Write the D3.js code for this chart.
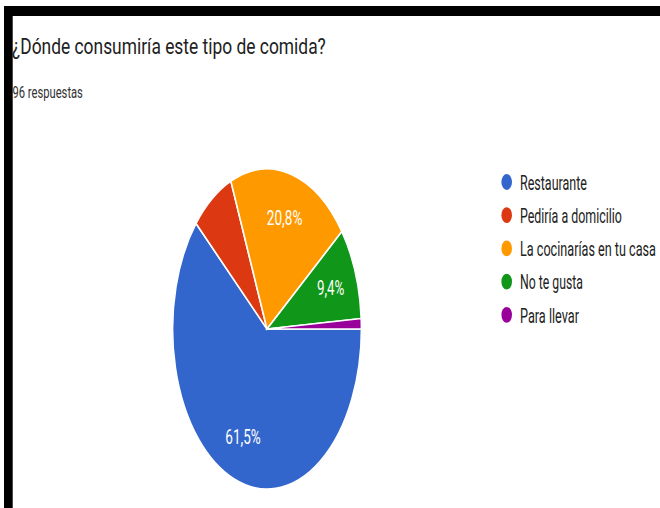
<!DOCTYPE html>
<html>
<head>
<meta charset="utf-8">
<script src="https://cdn.jsdelivr.net/npm/d3@7"></script>
<style>
  html, body { margin: 0; padding: 0; background: #fff; }
  svg { display: block; font-family: Roboto, "Noto Sans", Arial, sans-serif; }
</style>
</head>
<body>
<svg id="chart" width="660" height="508"></svg>
<script>
// Survey answers (96 responses)
const categories = ["Restaurante", "Pediría a domicilio", "La cocinarías en tu casa", "No te gusta", "Para llevar"];
const counts = [59, 7, 20, 9, 1];
const colors = ["#3366cc", "#dc3912", "#ff9900", "#109618", "#990099"];
const titleText = "¿Dónde consumiría este tipo de comida?";
const subtitleText = "96 respuestas";

// Widths the condensed text is fitted to
const legendWidths = [67, 102, 136, 63, 59];

const svg = d3.select("#chart");
const W = 660, H = 508;

svg.append("rect").attr("width", W).attr("height", H).attr("fill", "#fff");

// Draws a text condensed horizontally to the given width (left or middle anchored)
function condensed(parent, str, x, y, size, width, fill, anchor) {
  const g = parent.append("g");
  const t = g.append("text")
    .attr("font-size", size)
    .attr("fill", fill)
    .attr("text-anchor", anchor || "start")
    .text(str);
  const natural = t.node().getComputedTextLength();
  g.attr("transform", `translate(${x},${y}) scale(${width / natural},1)`);
  return g;
}

// Header
condensed(svg, titleText, 12, 54, 21.5, 314, "#212121");
condensed(svg, subtitleText, 12.5, 98, 17, 70.5, "#333");

// Pie (drawn as a circle, squeezed horizontally)
const cx = 267, cy = 329, R = 160, sx = 0.59;
const total = d3.sum(counts);
const data = categories.map((c, i) => ({ name: c, value: counts[i], color: colors[i] }));

const pie = d3.pie().value(d => d.value).sort(null)
  .startAngle(Math.PI / 2).endAngle(Math.PI / 2 + 2 * Math.PI);
const arcs = pie(data);
const arc = d3.arc().innerRadius(0).outerRadius(R);
const labelArc = d3.arc().innerRadius(R * 0.72).outerRadius(R * 0.72);

const pieG = svg.append("g").attr("transform", `translate(${cx},${cy}) scale(${sx},1)`);
pieG.selectAll("path").data(arcs).join("path")
  .attr("d", arc)
  .attr("fill", d => d.data.color)
  .attr("stroke", "#fff")
  .attr("stroke-width", 1.6)
  .attr("vector-effect", "non-scaling-stroke");

// Percentage labels only on the larger slices
const fmt = v => (Math.round(v * 1000) / 10).toFixed(1).replace(".", ",") + "%";
const labelG = svg.append("g");
arcs.filter(d => (d.endAngle - d.startAngle) > 0.5).forEach(d => {
  const [lx, ly] = labelArc.centroid(d);
  const s = fmt(d.data.value / total);
  condensed(labelG, s, cx + lx * sx, cy + ly + 7, 19.5, s.length > 4 ? 35.5 : 27.5, "#fff", "middle");
});

// Legend
const legend = svg.append("g");
data.forEach((d, i) => {
  const y = 182 + i * 33.2;
  legend.append("ellipse")
    .attr("cx", 506.7).attr("cy", y)
    .attr("rx", 5.3).attr("ry", 7.9)
    .attr("fill", d.color);
  condensed(legend, d.name, 520, y + 7.8, 20, legendWidths[i], "#222");
});

// Black frame along the top and left edges
svg.append("rect").attr("x", 4).attr("y", 6).attr("width", W - 4).attr("height", 10).attr("fill", "#000");
svg.append("rect").attr("x", 4).attr("y", 6).attr("width", 8.7).attr("height", H - 6).attr("fill", "#000");
</script>
</body>
</html>
